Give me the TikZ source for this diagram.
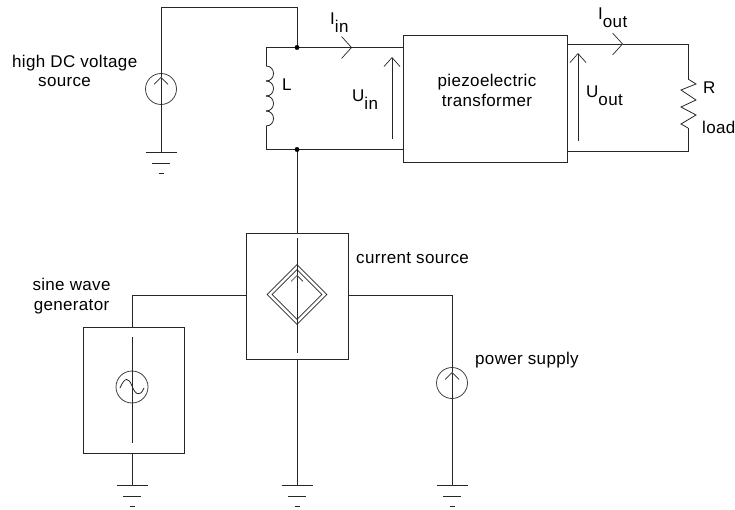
\documentclass[tikz,border=0pt]{standalone}
\usepackage{fontspec}
\setmainfont[LetterSpace=2]{Liberation Sans}
\usetikzlibrary{arrows.meta,shapes.geometric}
\newcommand{\low}[1]{\raisebox{-8pt}{#1}}
\tikzset{
  wire/.style={line width=0.8pt, black!85},
  ichev/.style={wire, -{Straight Barb[length=10pt,width=22pt,line width=0.7pt]}},
  uchev/.style={wire, -{Straight Barb[length=9pt,width=16pt,line width=0.7pt]}},
  smallchev/.style={wire, -{Straight Barb[length=7pt,width=14pt,line width=0.7pt]}},
  cschev/.style={wire, -{Straight Barb[length=6pt,width=12pt,line width=0.6pt]}},
  box/.style={draw, line width=0.8pt, black!85, rectangle, inner sep=0pt},
  srcring/.style={draw, line width=0.8pt, black!75, circle, inner sep=0pt, minimum size=31pt},
  lbl/.style={font=\fontsize{17}{20}\selectfont, anchor=base west, inner sep=0pt, align=left},
  gnd/.pic={
    \draw[wire] (-15.5,0) -- (15.5,0);
    \draw[wire] (-9,11) -- (9,11);
    \draw[wire] (-2.5,21) -- (2.5,21);
  }
}
\begin{document}
\begin{tikzpicture}[x=1pt, y=-1pt]
  \useasboundingbox (0,0) rectangle (735,510);
  % boxes
  \node[box, minimum width=164pt, minimum height=127pt] (xfmr) at (485,98.5) {};
  \node[box, minimum width=102pt, minimum height=126pt] (csbox) at (297,296) {};
  \node[box, minimum width=101pt, minimum height=126pt] (genbox) at (133.5,390) {};
  % sources
  \node[srcring] (hvsrc) at (161,89) {};
  \node[srcring] (pwsrc) at (452,383) {};
  \node[srcring, minimum size=32pt] (gensrc) at (132,387) {};
  \node[draw, wire, diamond, aspect=1, inner sep=0pt, minimum size=60pt] (csouter) at (297,294.5) {};
  \node[draw, wire, diamond, aspect=1, inner sep=0pt, minimum size=50pt] (csinner) at (297,294.5) {};
  % junctions
  \coordinate (topl) at (266,47.5);
  \coordinate (botl) at (266,149.5);
  \coordinate (jtop) at (297,47.5);
  \coordinate (jbot) at (297,149.5);
  \coordinate (hvtop) at (161,7);
  \coordinate (jover) at (297,7);
  \coordinate (hvtip) at (161,77);
  \coordinate (hvgnd) at (161,152);
  \coordinate (intip) at (352,47.5);
  \coordinate (outtl) at (567,44);
  \coordinate (outbl) at (567,151);
  \coordinate (outtip) at (623,44);
  \coordinate (outtr) at (688,44);
  \coordinate (outbr) at (688,151);
  \coordinate (cscor) at (132.5,295);
  \coordinate (pwcor) at (452,295);
  \coordinate (pwtip) at (452,372);
  \coordinate (gengnd) at (132,485);
  \coordinate (csgnd) at (297,485);
  \coordinate (pwgnd) at (452,485);
  \coordinate (csin) at (297,238);
  \coordinate (cslow) at (297,353);
  \coordinate (cstip) at (297,275);
  \coordinate (genin) at (132,337);
  \coordinate (genlow) at (132,443);
  \coordinate (uinb) at (392,139);
  \coordinate (uint) at (392,57);
  \coordinate (uoutb) at (578,141);
  \coordinate (uoutt) at (578,53);
  % wiring
  \draw[wire] (hvtip) -- (hvtop) -- (jover) -- (jtop);
  \draw[smallchev] (hvgnd) -- (hvtip);
  \draw[wire] (266,66) -- (topl) -- (jtop);
  \draw[ichev] (jtop) -- (intip);
  \draw[wire] (intip) -- (xfmr.west |- intip);
  \draw[wire] (266,126) -- (botl) -- (jbot) -- (xfmr.west |- jbot);
  \draw[wire] (jbot) -- (csbox.north);
  \draw[ichev] (outtl) -- (outtip);
  \draw[wire] (outtip) -- (outtr) -- (688,79);
  \draw[wire] (688,128) -- (outbr) -- (outbl);
  \draw[wire] (csbox.west |- cscor) -- (cscor) -- (genbox.north -| cscor);
  \draw[wire] (csbox.east |- pwcor) -- (pwcor) -- (pwtip);
  \draw[smallchev] (pwgnd) -- (pwtip);
  \draw[wire] (genbox.south -| gengnd) -- (gengnd);
  \draw[wire] (csbox.south) -- (csgnd);
  \draw[wire] (genin) -- (genlow);
  \draw[wire] (cstip) -- (csin);
  \draw[cschev] (cslow) -- (cstip);
  \draw[uchev] (uinb) -- (uint);
  \draw[uchev] (uoutb) -- (uoutt);
  \filldraw[black] (jtop) circle (2.2pt);
  \filldraw[black] (jbot) circle (2.2pt);
  % inductor
  \foreach \yy in {66,81,96,111} {
    \draw[wire] (266,\yy) .. controls (276,\yy) and (276,{\yy+15}) .. (266,{\yy+15});
  }
  % load
  \draw[wire] (688,79) -- (696,84) -- (681,90) -- (696,100) -- (681,107) -- (696,115) -- (681,124) -- (688,128);
  % sine
  \draw[wire] (120,388) .. controls (125,376) and (129,378) .. (132,386) .. controls (135,394) and (140,398) .. (144,388);
  % grounds
  \pic at (hvgnd) {gnd};
  \pic at (gengnd) {gnd};
  \pic at (csgnd) {gnd};
  \pic at (pwgnd) {gnd};
  % labels
  \node[lbl] (hvlbl) at (12,68) {high DC voltage};
  \node[lbl] (srclbl) at (38,87) {source};
  \node[lbl] (llbl) at (282,91) {L};
  \node[lbl] (ilbl) at (330,25) {I\low{in}};
  \node[lbl] (ulbl) at (352,102) {U\low{in}};
  \node[lbl, anchor=base, align=center] (xlbl) at (487,107) {piezoelectric\\transformer};
  \node[lbl] (uolbl) at (586,98) {U\low{out}};
  \node[lbl] (iolbl) at (598,20) {I\low{out}};
  \node[lbl] (rlbl) at (703,94) {R};
  \node[lbl] (loadlbl) at (702,134) {load};
  \node[lbl] (cslbl) at (356,263) {current source};
  \node[lbl, anchor=base, align=center] (genlbl) at (71.5,310) {sine wave\\generator};
  \node[lbl] (pwlbl) at (475,364) {power supply};
\end{tikzpicture}
\end{document}
